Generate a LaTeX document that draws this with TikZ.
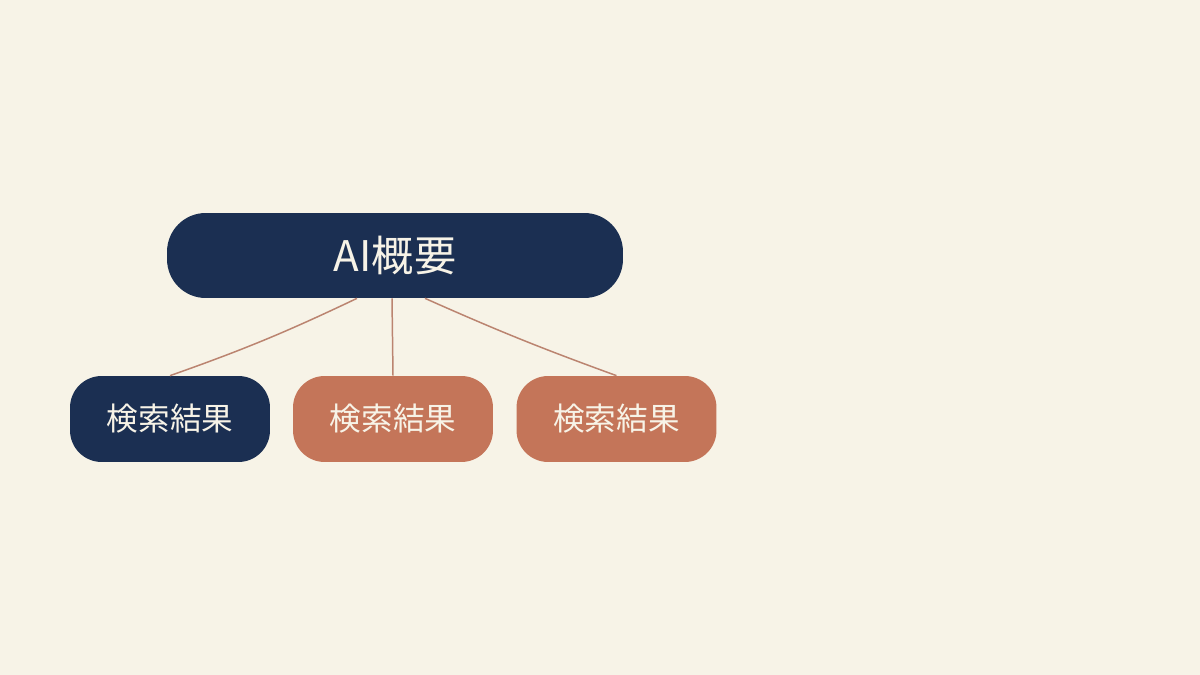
\documentclass[tikz,border=0pt]{standalone}
\usepackage{fontspec}
\setmainfont{Noto Sans CJK JP}
\usetikzlibrary{calc}
\definecolor{bgc}{HTML}{F7F3E7}
\definecolor{navy}{HTML}{1B2F52}
\definecolor{terra}{HTML}{C47559}
\definecolor{linec}{HTML}{BB8470}
\begin{document}
\begin{tikzpicture}[x=0.02cm,y=-0.02cm,
  topbox/.style={fill=navy,text=bgc,rounded corners=22pt,minimum width=9.12cm,minimum height=1.7cm,inner sep=0pt,font=\fontsize{24}{28}\selectfont},
  subbox/.style={text=bgc,rounded corners=18pt,minimum width=4cm,minimum height=1.72cm,inner sep=0pt,font=\fontsize{18}{22}\selectfont},
  link/.style={draw=linec,line width=0.85pt}]
\fill[bgc] (0,0) rectangle (1200,675);
\useasboundingbox (0,0) rectangle (1200,675);
\node[topbox] (top) at (395,255.5) {AI概要};
\node[subbox,fill=navy] (r1) at (170,419) {検索結果};
\node[subbox,fill=terra] (r2) at (393,419) {検索結果};
\node[subbox,fill=terra] (r3) at (616.5,419) {検索結果};
\draw[link] ($(top.south)+(-38,0)$) to[bend left=3] (r1.north);
\draw[link] ($(top.south)+(-3,0)$) -- (r2.north);
\draw[link] ($(top.south)+(30,0)$) to[bend right=2] (r3.north);
\end{tikzpicture}
\end{document}
